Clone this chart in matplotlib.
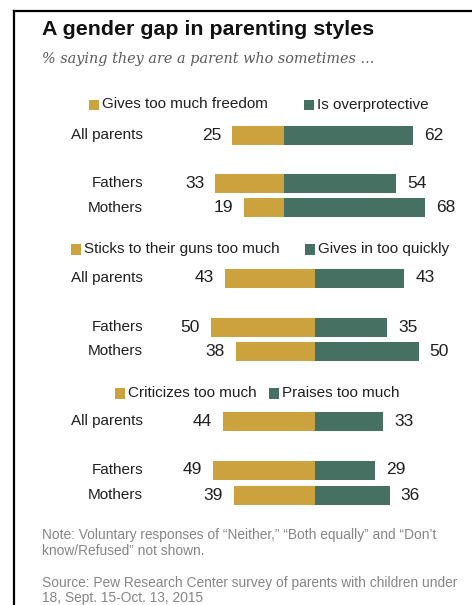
import matplotlib
matplotlib.use("Agg")
import matplotlib.pyplot as plt
from matplotlib.patches import Rectangle

plt.rcParams['font.family'] = ['Liberation Sans', 'DejaVu Sans']

# survey values (%)
groups = ["All parents", "Fathers", "Mothers"]
freedom = [25, 33, 19]
overprotective = [62, 54, 68]
sticks_to_guns = [43, 50, 38]
gives_in = [43, 35, 50]
criticizes = [44, 49, 39]
praises = [33, 29, 36]

legend_left = ["Gives too much freedom", "Sticks to their guns too much", "Criticizes too much"]
legend_right = ["Is overprotective", "Gives in too quickly", "Praises too much"]

GOLD = "#CBA23D"
GREEN = "#467062"
TEXT = "#1f1f1f"
GREY = "#858585"

W, H = 472, 605
PX = 2.08  # pixels per percentage point

# layout in pixels
zero_x = [284, 314.7, 314.7]
row_y = [[135.5, 183, 207.5], [278, 327, 351], [421, 470, 495]]
legend_y = [104.5, 249, 393]
legend_sq_left = [89, 71, 115]
legend_sq_right = [304, 305, 269]
BAR_H = 19

fig = plt.figure(figsize=(W / 100, H / 100), dpi=100)

# overlay axes in pixel coordinates for text and frame
ov = fig.add_axes([0, 0, 1, 1])
ov.set_xlim(0, W)
ov.set_ylim(H, 0)
ov.axis('off')

sections = [(freedom, overprotective), (sticks_to_guns, gives_in), (criticizes, praises)]

for i, (left_vals, right_vals) in enumerate(sections):
    ax = fig.add_axes([0, 0, 1, 1])
    ax.set_xlim(-zero_x[i] / PX, (W - zero_x[i]) / PX)
    ax.set_ylim(H, 0)
    ax.axis('off')
    ys = row_y[i]
    ax.barh(ys, [-v for v in left_vals], height=BAR_H, color=GOLD, linewidth=0)
    ax.barh(ys, right_vals, height=BAR_H, color=GREEN, linewidth=0)
    for y, lv, rv, g in zip(ys, left_vals, right_vals, groups):
        ax.text(-lv - 11 / PX, y, str(lv), ha='right', va='center',
                fontsize=12.5, color=TEXT)
        ax.text(rv + 11 / PX, y, str(rv), ha='left', va='center',
                fontsize=12.5, color=TEXT)
        ov.text(143, y, g, ha='right', va='center', fontsize=11, color=TEXT)

    # legend: coloured square + label
    ly = legend_y[i]
    for sx, col, lab in [(legend_sq_left[i], GOLD, legend_left[i]),
                         (legend_sq_right[i], GREEN, legend_right[i])]:
        ov.add_patch(Rectangle((sx, ly - 5), 10, 10.5, color=col, linewidth=0))
        ov.text(sx + 13, ly, lab, ha='left', va='center', fontsize=11, color=TEXT)

# title and subtitle
ov.text(42, 35, "A gender gap in parenting styles", ha='left', va='baseline',
        fontsize=15.4, fontweight='bold', color="#111111")
ov.text(42, 63, "% saying they are a parent who sometimes ...", ha='left',
        va='baseline', fontsize=10.35, style='italic', family='DejaVu Serif',
        color="#5a5a5a")

# notes
NOTE_FS = 9.9
ov.text(42, 539, "Note: Voluntary responses of \u201cNeither,\u201d \u201cBoth equally\u201d and \u201cDon\u2019t",
        ha='left', va='baseline', fontsize=NOTE_FS, color=GREY)
ov.text(42, 555, "know/Refused\u201d not shown.", ha='left', va='baseline',
        fontsize=NOTE_FS, color=GREY)
ov.text(42, 587, "Source: Pew Research Center survey of parents with children under",
        ha='left', va='baseline', fontsize=NOTE_FS, color=GREY)
ov.text(42, 602, "18, Sept. 15-Oct. 13, 2015", ha='left', va='baseline',
        fontsize=NOTE_FS, color=GREY)

# frame (top and left edges)
ov.plot([13.5, W + 5], [11, 11], color='black', lw=1.6, clip_on=False)
ov.plot([13.5, 13.5], [11, H + 5], color='black', lw=1.6, clip_on=False)

fig.savefig("out.png", dpi=100)
